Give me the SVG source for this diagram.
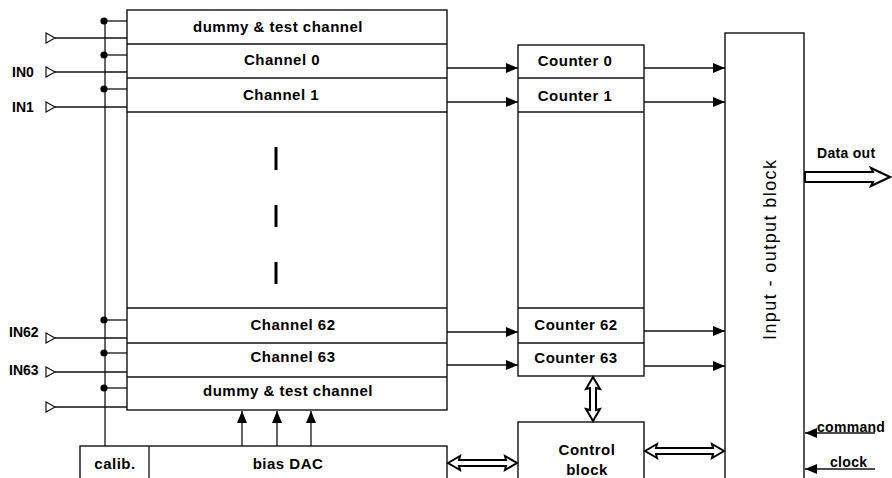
<svg xmlns="http://www.w3.org/2000/svg" width="892" height="478" viewBox="0 0 892 478">
<style>
.bx{fill:#fff;stroke:#111;stroke-width:1.4}
.ln{fill:none;stroke:#111;stroke-width:1.3}
.t{font-family:"Liberation Sans",Arial,sans-serif;font-weight:bold;font-size:15px;letter-spacing:0.5px;fill:#000;text-anchor:middle}
.tl{font-family:"Liberation Sans",Arial,sans-serif;font-weight:bold;font-size:14px;fill:#000}
.dbl{fill:#fff;stroke:#000;stroke-width:2;stroke-linejoin:miter}
.tri{fill:#fff;stroke:#111;stroke-width:1.2}
</style>
<defs>
<marker id="ah" markerUnits="userSpaceOnUse" markerWidth="13" markerHeight="11" refX="12" refY="5" orient="auto">
<path d="M0,0 L12,5 L0,10 z" fill="#000"/>
</marker>
</defs>

<g id="channels">
<rect class="bx" x="127" y="10" width="320" height="400"/>
<line class="ln" x1="127" y1="44" x2="447" y2="44"/>
<line class="ln" x1="127" y1="78" x2="447" y2="78"/>
<line class="ln" x1="127" y1="112" x2="447" y2="112"/>
<line class="ln" x1="127" y1="308" x2="447" y2="308"/>
<line class="ln" x1="127" y1="343" x2="447" y2="343"/>
<line class="ln" x1="127" y1="377" x2="447" y2="377"/>
<text class="t" x="278" y="32">dummy &amp; test channel</text>
<text class="t" x="282" y="65">Channel 0</text>
<text class="t" x="281" y="100">Channel 1</text>
<text class="t" x="293" y="330">Channel 62</text>
<text class="t" x="293" y="362">Channel 63</text>
<text class="t" x="288" y="396">dummy &amp; test channel</text>
<line x1="276" y1="147" x2="276" y2="170" stroke="#000" stroke-width="3"/>
<line x1="276" y1="205" x2="276" y2="227" stroke="#000" stroke-width="3"/>
<line x1="276" y1="262" x2="276" y2="284" stroke="#000" stroke-width="3"/>
</g>

<g id="counters">
<rect class="bx" x="518" y="45" width="126" height="331"/>
<line class="ln" x1="518" y1="78" x2="644" y2="78"/>
<line class="ln" x1="518" y1="112" x2="644" y2="112"/>
<line class="ln" x1="518" y1="308" x2="644" y2="308"/>
<line class="ln" x1="518" y1="343" x2="644" y2="343"/>
<text class="t" x="575" y="66">Counter 0</text>
<text class="t" x="575" y="101">Counter 1</text>
<text class="t" x="576" y="330">Counter 62</text>
<text class="t" x="576" y="363">Counter 63</text>
</g>

<g id="io-block">
<rect class="bx" x="725" y="33" width="79" height="460"/>
<text transform="translate(776,250) rotate(-90)" font-family="'Liberation Sans',Arial,sans-serif" font-size="18" text-anchor="middle" textLength="180" lengthAdjust="spacing" fill="#000">Input - output block</text>
</g>

<g id="control-block">
<rect class="bx" x="518" y="422" width="126" height="70"/>
<text class="t" x="587" y="455">Control</text>
<text class="t" x="587" y="475">block</text>
</g>

<g id="dac">
<rect class="bx" x="80" y="446" width="367" height="46"/>
<line class="ln" x1="149" y1="446" x2="149" y2="478"/>
<text class="t" x="115" y="469">calib.</text>
<text class="t" x="288" y="469">bias DAC</text>
</g>

<g id="inputs">
<polygon class="tri" points="46,33 55,38 46,43"/>
<polygon class="tri" points="46,67 55,72 46,77"/>
<polygon class="tri" points="46,102 55,107 46,112"/>
<polygon class="tri" points="46,333 55,338 46,343"/>
<polygon class="tri" points="46,367 55,372 46,377"/>
<polygon class="tri" points="46,402 55,407 46,412"/>
<text class="tl" x="12" y="77">IN0</text>
<text class="tl" x="12" y="112">IN1</text>
<text class="tl" x="9" y="337">IN62</text>
<text class="tl" x="9" y="375">IN63</text>
</g>

<g id="labels">
<text class="tl" x="817" y="158" letter-spacing="0.3">Data out</text>
<text class="tl" x="817" y="432" letter-spacing="0.3">command</text>
<text class="tl" x="830" y="467" letter-spacing="0.3">clock</text>
</g>

<g id="connectors">
<line class="ln" x1="105" y1="20" x2="105" y2="446"/>
<g fill="#000">
<circle cx="104" cy="21" r="3.6"/>
<circle cx="104" cy="55" r="3.6"/>
<circle cx="104" cy="89" r="3.6"/>
<circle cx="104" cy="320" r="3.6"/>
<circle cx="104" cy="353" r="3.6"/>
<circle cx="104" cy="388" r="3.6"/>
</g>
<line class="ln" x1="105" y1="21" x2="127" y2="21"/>
<line class="ln" x1="105" y1="55" x2="127" y2="55"/>
<line class="ln" x1="105" y1="89" x2="127" y2="89"/>
<line class="ln" x1="105" y1="320" x2="127" y2="320"/>
<line class="ln" x1="105" y1="353" x2="127" y2="353"/>
<line class="ln" x1="105" y1="388" x2="127" y2="388"/>
<line class="ln" x1="55" y1="38" x2="127" y2="38"/>
<line class="ln" x1="55" y1="72" x2="127" y2="72"/>
<line class="ln" x1="55" y1="107" x2="127" y2="107"/>
<line class="ln" x1="55" y1="338" x2="127" y2="338"/>
<line class="ln" x1="55" y1="372" x2="127" y2="372"/>
<line class="ln" x1="55" y1="407" x2="127" y2="407"/>

<line class="ln" x1="447" y1="68" x2="518" y2="68" marker-end="url(#ah)"/>
<line class="ln" x1="447" y1="102" x2="518" y2="102" marker-end="url(#ah)"/>
<line class="ln" x1="447" y1="332" x2="518" y2="332" marker-end="url(#ah)"/>
<line class="ln" x1="447" y1="365" x2="518" y2="365" marker-end="url(#ah)"/>

<line class="ln" x1="644" y1="68" x2="725" y2="68" marker-end="url(#ah)"/>
<line class="ln" x1="644" y1="102" x2="725" y2="102" marker-end="url(#ah)"/>
<line class="ln" x1="644" y1="331" x2="725" y2="331" marker-end="url(#ah)"/>
<line class="ln" x1="644" y1="366" x2="725" y2="366" marker-end="url(#ah)"/>

<line class="ln" x1="242" y1="446" x2="242" y2="411" marker-end="url(#ah)"/>
<line class="ln" x1="277" y1="446" x2="277" y2="411" marker-end="url(#ah)"/>
<line class="ln" x1="311" y1="446" x2="311" y2="411" marker-end="url(#ah)"/>

<line class="ln" x1="875" y1="433" x2="805" y2="433" marker-end="url(#ah)"/>
<line class="ln" x1="875" y1="469" x2="805" y2="469" marker-end="url(#ah)"/>

<polygon class="dbl" points="448,463 460,456 459,460 506,460 505,456 517,463 505,470 506,466 459,466 460,470"/>
<polygon class="dbl" points="645,451 657,444 656,448 713,448 712,444 724,451 712,458 713,454 656,454 657,458"/>
<polygon class="dbl" points="593,377 600,389 596,388 596,410 600,409 593,421 586,409 590,410 590,388 586,389"/>
<polygon class="dbl" points="805,172 873,172 871,168 890,177 871,186 873,182 805,182" stroke-width="2.4"/>
</g>
</svg>
